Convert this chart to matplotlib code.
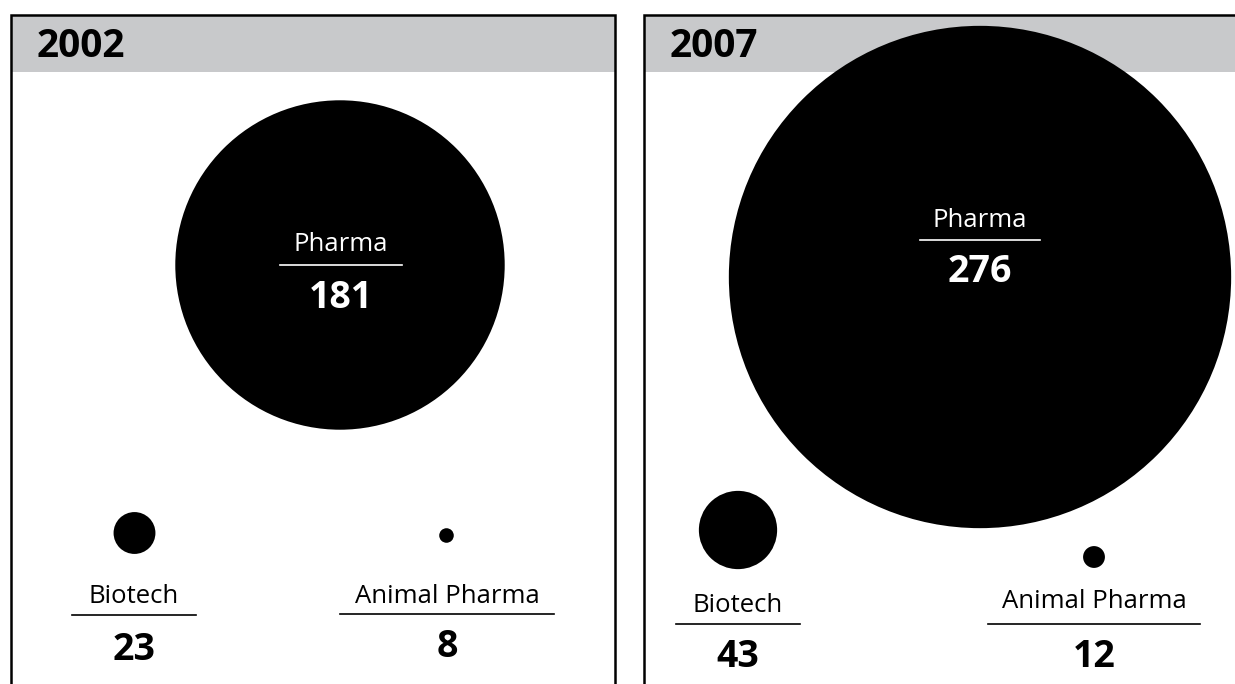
import matplotlib
matplotlib.use('Agg')
import matplotlib.pyplot as plt
from matplotlib.patches import Circle, Rectangle

plt.rcParams['font.family'] = ['Open Sans', 'DejaVu Sans']

# data
years = ['2002', '2007']
categories = ['Pharma', 'Biotech', 'Animal Pharma']
counts_2002 = [181, 23, 8]
counts_2007 = [276, 43, 12]

# layout (pixels, y down)
PX_PER_UNIT = 0.91
panel_x = [(11, 615), (644, 1245)]
panel_top = 15
header_bottom = 72
circle_xy = [
    [(340, 265), (134.5, 533), (446.5, 535.5)],
    [(980, 277), (738, 530), (1094, 557)],
]
# label: centre x, name baseline, rule y, rule half width, value baseline
label_pos = [
    [(341, 251, 265, 61, 308), (134, 603, 615, 62, 660), (447, 603, 614, 107, 657)],
    [(980, 227, 240, 60, 282), (738, 612, 624, 62, 667), (1094, 608, 624, 106, 667)],
]

fig = plt.figure(figsize=(12.35, 6.84), dpi=100)
ax = fig.add_axes([0, 0, 1, 1])
ax.set_xlim(0, 1235)
ax.set_ylim(684, 0)
ax.axis('off')

for p, counts in enumerate([counts_2002, counts_2007]):
    x0, x1 = panel_x[p]
    ax.add_patch(Rectangle((x0, panel_top), x1 - x0, header_bottom - panel_top,
                           facecolor='#c8c9cb', edgecolor='none', zorder=1))
    ax.plot([x0, x0, x1, x1], [700, panel_top, panel_top, 700],
            color='black', lw=1.8, zorder=4, solid_joinstyle='miter')
    ax.text(x0 + 26, 57, years[p], fontsize=28, fontweight='bold',
            ha='left', va='baseline', zorder=5)

    for i, cat in enumerate(categories):
        cx, cy = circle_xy[p][i]
        ax.add_patch(Circle((cx, cy), counts[i] * PX_PER_UNIT,
                            facecolor='black', edgecolor='none', zorder=2))
        tx, name_y, rule_y, half_w, val_y = label_pos[p][i]
        col = 'white' if i == 0 else 'black'
        ax.text(tx, name_y, cat, fontsize=18.5, color=col,
                ha='center', va='baseline', zorder=5)
        ax.plot([tx - half_w, tx + half_w], [rule_y, rule_y],
                color=col, lw=1.2, zorder=5)
        ax.text(tx, val_y, str(counts[i]), fontsize=27, fontweight='bold',
                color=col, ha='center', va='baseline', zorder=5)

fig.savefig('out.png', dpi=100)
